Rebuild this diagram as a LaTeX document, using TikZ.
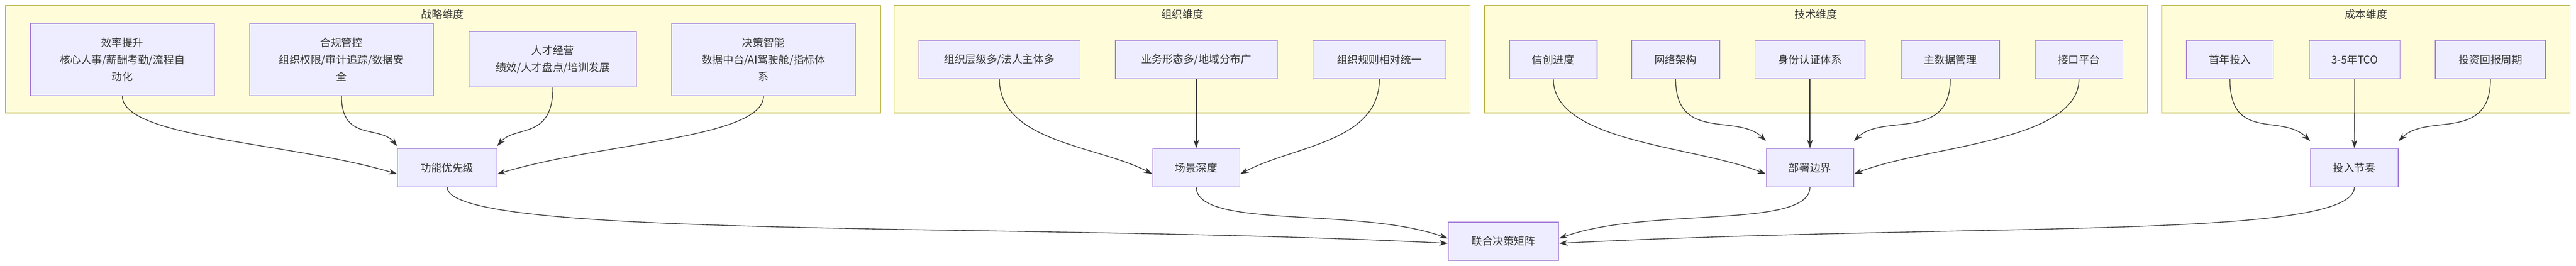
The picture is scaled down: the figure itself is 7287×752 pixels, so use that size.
\documentclass[tikz,border=0pt]{standalone}
\usepackage{fontspec}
\setmainfont{Noto Sans CJK SC}
\usetikzlibrary{arrows.meta}

\tikzset{
  grp/.style={draw=black!30!yellow!70!olive, fill=yellow!15, line width=2pt},
  box/.style={draw=violet!60!blue!50, fill=blue!7, line width=2pt, align=center,
    font=\fontsize{30}{48}\selectfont, text=black!80, minimum height=108pt},
  lbl/.style={font=\fontsize{30}{36}\selectfont, text=black!80},
  arr/.style={-{Stealth[length=24pt,width=16pt]}, line width=2pt, draw=black!80},
}

\begin{document}
\begin{tikzpicture}[x=1pt,y=-1pt]
    \useasboundingbox (0,0) rectangle (7287,752);
    % groups
    \draw[grp] (16,15) rectangle (2491,319);
    \draw[grp] (2529,15) rectangle (4159,319);
    \draw[grp] (4200,15) rectangle (6075,319);
    \draw[grp] (6115,15) rectangle (7270,319);
    \node[lbl] (g1) at (1252,41) {战略维度};
    \node[lbl] (g2) at (3345,41) {组织维度};
    \node[lbl] (g3) at (5137,41) {技术维度};
    \node[lbl] (g4) at (6693,41) {成本维度};
    % strategy
    \node[box,minimum width=520pt,minimum height=204pt] (s1) at (346,168) {效率提升\\核心人事/薪酬考勤/流程自\\动化};
    \node[box,minimum width=519pt,minimum height=204pt] (s2) at (966,168) {合规管控\\组织权限/审计追踪/数据安\\全};
    \node[box,minimum width=474pt,minimum height=156pt] (s3) at (1564,168) {人才经营\\绩效/人才盘点/培训发展};
    \node[box,minimum width=520pt,minimum height=204pt] (s4) at (2160,168) {决策智能\\数据中台/AI驾驶舱/指标体\\系};
    % organisation
    \node[box,minimum width=456pt] (o1) at (2827,168) {组织层级多/法人主体多};
    \node[box,minimum width=458pt] (o2) at (3384,168) {业务形态多/地域分布广};
    \node[box,minimum width=376pt] (o3) at (3902,168) {组织规则相对统一};
    % technology
    \node[box,minimum width=248pt] (t1) at (4394,168) {信创进度};
    \node[box,minimum width=249pt] (t2) at (4740,168) {网络架构};
    \node[box,minimum width=311pt] (t3) at (5120,168) {身份认证体系};
    \node[box,minimum width=278pt] (t4) at (5517,168) {主数据管理};
    \node[box,minimum width=248pt] (t5) at (5881,168) {接口平台};
    % cost
    \node[box,minimum width=246pt] (c1) at (6308,168) {首年投入};
    \node[box,minimum width=256pt] (c2) at (6661,168) {3-5年TCO};
    \node[box,minimum width=312pt] (c3) at (7045,168) {投资回报周期};
    % middle
    \node[box,minimum width=281pt] (fp) at (1265,474) {功能优先级};
    \node[box,minimum width=247pt] (sd) at (3384,474) {场景深度};
    \node[box,minimum width=247pt] (db) at (5120,474) {部署边界};
    \node[box,minimum width=248pt] (tr) at (6660,474) {投入节奏};
    \node[box,minimum width=313pt] (jm) at (4253,682) {联合决策矩阵};
    % edges
    \draw[arr] (s1.south) .. controls +(0,120) and +(-300,-90) .. ([yshift=-18pt]fp.west);
    \draw[arr] (s2.south) .. controls +(0,130) and +(-50,-60) .. ([yshift=6pt]fp.north west);
    \draw[arr] (s3.south) .. controls +(0,150) and +(50,-60) .. ([yshift=6pt]fp.north east);
    \draw[arr] (s4.south) .. controls +(0,120) and +(300,-90) .. ([yshift=-18pt]fp.east);
    \draw[arr] (o1.south) .. controls +(0,180) and +(-150,-80) .. ([yshift=-18pt]sd.west);
    \draw[arr] (o2) -- (sd);
    \draw[arr] (o3.south) .. controls +(0,180) and +(150,-80) .. ([yshift=-18pt]sd.east);
    \draw[arr] (t1.south) .. controls +(0,180) and +(-200,-80) .. ([yshift=-18pt]db.west);
    \draw[arr] (t2.south) .. controls +(0,180) and +(-80,-80) .. ([yshift=20pt]db.north west);
    \draw[arr] (t3) -- (db);
    \draw[arr] (t4.south) .. controls +(0,180) and +(80,-80) .. ([yshift=20pt]db.north east);
    \draw[arr] (t5.south) .. controls +(0,180) and +(200,-80) .. ([yshift=-18pt]db.east);
    \draw[arr] (c1.south) .. controls +(0,180) and +(-80,-80) .. ([yshift=20pt]tr.north west);
    \draw[arr] (c2) -- (tr);
    \draw[arr] (c3.south) .. controls +(0,180) and +(80,-80) .. ([yshift=20pt]tr.north east);
    \draw[arr] (fp.south) .. controls +(0,150) and +(-1200,-60) .. ([yshift=-6pt]jm.west);
    \draw[arr] (sd.south) .. controls +(0,120) and +(-250,-90) .. ([yshift=8pt]jm.west);
    \draw[arr] (db.south) .. controls +(0,120) and +(250,-90) .. ([yshift=8pt]jm.east);
    \draw[arr] (tr.south) .. controls +(0,150) and +(1200,-60) .. ([yshift=-6pt]jm.east);
\end{tikzpicture}
\end{document}
